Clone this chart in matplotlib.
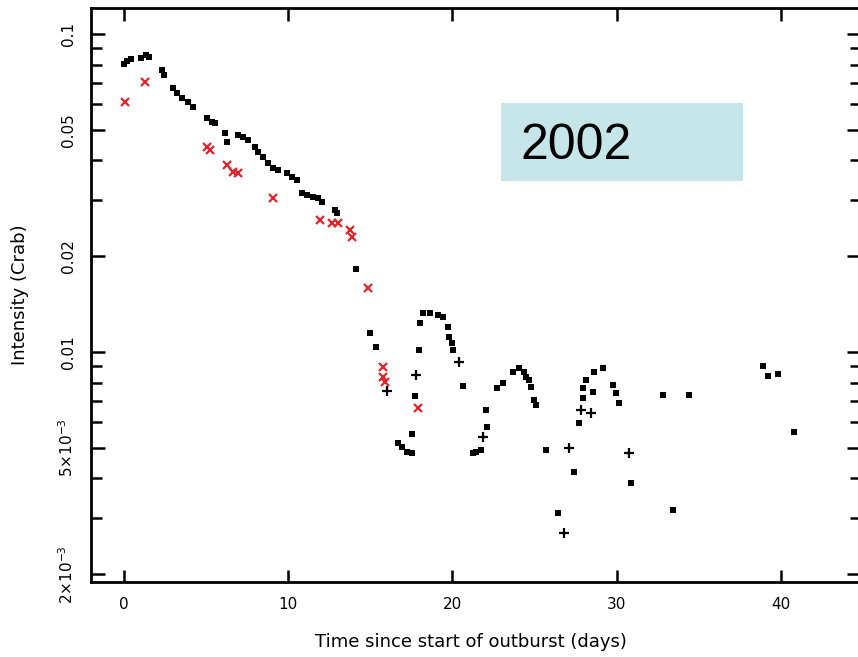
# -*- coding: utf-8 -*-
"""
Outburst light curve (2002): intensity in Crab units vs. days since start.
"""

import matplotlib
matplotlib.use("Agg")
import matplotlib.pyplot as plt
from matplotlib.patches import Rectangle
from matplotlib.ticker import FixedLocator, NullFormatter


# daily points (small squares)
days_dots = [
    0.00, 0.18, 0.43, 1.04, 1.34, 1.52, 2.32, 2.44, 2.99, 3.23, 3.54, 3.90,
    4.21, 5.06, 5.37, 5.55, 6.16, 6.28, 6.95, 7.26, 7.56, 7.99, 8.17, 8.48,
    8.78, 9.09, 9.39, 9.94, 10.24, 10.55, 10.85, 11.16, 11.52, 11.83, 12.07,
    12.87, 12.99, 14.15, 15.00, 15.37, 16.70, 16.95, 17.26, 17.56, 17.56,
    17.74, 17.93, 18.05, 18.23, 18.66, 19.09, 19.45, 19.70, 19.76, 20.00,
    20.06, 20.67, 21.22, 21.46, 21.71, 22.01, 22.13, 22.74, 23.05, 23.66,
    24.02, 24.33, 24.45, 24.63, 24.76, 24.94, 25.06, 25.67, 26.40, 27.38,
    27.68, 27.93, 27.93, 28.11, 28.54, 28.60, 29.15, 29.76, 29.94, 30.12,
    30.85, 32.80, 33.41, 34.39, 38.90, 39.20, 39.82, 40.79,
]
flux_dots = [
    0.0805, 0.0822, 0.0834, 0.0840, 0.0859, 0.0847, 0.0770, 0.0743, 0.0676,
    0.0652, 0.0629, 0.0611, 0.0589, 0.0545, 0.0529, 0.0525, 0.0488, 0.0457,
    0.0481, 0.0474, 0.0464, 0.0441, 0.0425, 0.0410, 0.0393, 0.0379, 0.0373,
    0.0366, 0.0355, 0.0348, 0.0316, 0.0312, 0.0307, 0.0305, 0.0296, 0.0280,
    0.0274, 0.0182, 0.01147, 0.01037, 0.00517, 0.00503, 0.00485, 0.00481,
    0.00552, 0.00727, 0.01015, 0.01234, 0.01327, 0.01327, 0.01307, 0.01288,
    0.01199, 0.01115, 0.01067, 0.01015, 0.00782, 0.00481, 0.00486, 0.00492,
    0.00657, 0.00581, 0.00770, 0.00799, 0.00865, 0.00891, 0.00865, 0.00834,
    0.00817, 0.00776, 0.00707, 0.00681, 0.00492, 0.00312, 0.00419, 0.00598,
    0.00717, 0.00770, 0.00817, 0.00748, 0.00865, 0.00891, 0.00787, 0.00743,
    0.00691, 0.00387, 0.00732, 0.00318, 0.00732, 0.00904, 0.00840, 0.00852,
    0.00560,
]

# single-orbit points (plus signs)
days_plus = [16.04, 17.80, 20.37, 21.83, 26.77, 27.07, 27.80, 28.41, 30.73]
flux_plus = [0.00754, 0.00847, 0.00930, 0.00540, 0.00270, 0.00499, 0.00657,
             0.00643, 0.00481]

# second instrument (red crosses)
days_red = [0.06, 1.28, 5.06, 5.24, 6.28, 6.65, 6.95, 9.09, 11.95, 12.68,
            13.05, 13.78, 13.90, 14.88, 15.79, 15.79, 15.91, 17.87]
flux_red = [0.0611, 0.0707, 0.0441, 0.0432, 0.0387, 0.0368, 0.0366, 0.0305,
            0.0260, 0.0254, 0.0254, 0.0242, 0.0230, 0.0159, 0.00897, 0.00834,
            0.00804, 0.00667]

x_ticks = [0, 10, 20, 30, 40]
y_ticks = [2e-3, 5e-3, 0.01, 0.02, 0.05, 0.1]
y_tick_labels = ["2×10$^{-3}$", "5×10$^{-3}$", "0.01", "0.02", "0.05", "0.1"]
y_minor = [3e-3, 4e-3, 6e-3, 7e-3, 8e-3, 9e-3, 0.03, 0.04, 0.06, 0.07, 0.08, 0.09]


def main():
    fig = plt.figure(figsize=(8.58, 6.57), dpi=100)
    ax = fig.add_axes([0.1061, 0.1142, 0.8975, 0.8737])

    ax.plot(days_dots, flux_dots, linestyle="none", marker="s", markersize=4.1,
            color="black", markeredgewidth=0)
    ax.plot(days_plus, flux_plus, linestyle="none", marker="+", markersize=7,
            color="black", markeredgewidth=1.6)
    ax.plot(days_red, flux_red, linestyle="none", marker="x", markersize=6,
            color="#e3242b", markeredgewidth=1.6)

    ax.set_yscale("log")
    ax.set_xlim(-2.01, 44.88)
    ax.set_ylim(0.001891, 0.1207)

    ax.set_xticks(x_ticks)
    ax.set_xticklabels([str(t) for t in x_ticks])
    ax.yaxis.set_major_locator(FixedLocator(y_ticks))
    ax.yaxis.set_minor_locator(FixedLocator(y_minor))
    ax.yaxis.set_minor_formatter(NullFormatter())
    ax.set_yticklabels(y_tick_labels, rotation=90, va="center")

    ax.tick_params(which="both", direction="in", top=True, right=True,
                   width=1.8, color="black", labelsize=11)
    ax.tick_params(axis="x", which="major", length=9, pad=11)
    ax.tick_params(axis="y", which="major", length=10, pad=11)
    ax.tick_params(axis="y", which="minor", length=8)
    for spine in ax.spines.values():
        spine.set_linewidth(2.0)

    ax.set_xlabel("Time since start of outburst (days)", fontsize=13)
    ax.set_ylabel("Intensity (Crab)", fontsize=13)
    ax.xaxis.set_label_coords(0.493, -0.089)
    ax.yaxis.set_label_coords(-0.080, 0.5)

    # year tag in the upper right
    fig.patches.append(Rectangle((0.5839, 0.7245), 0.2821, 0.1187,
                                 transform=fig.transFigure, facecolor="#c5e5e8",
                                 edgecolor="none", zorder=5))
    fig.text(0.6061, 0.758, "2002", fontsize=36, family="Liberation Sans",
             va="baseline", ha="left", zorder=6)

    fig.savefig("out.png", dpi=100)
    plt.close(fig)


if __name__ == "__main__":
    main()
